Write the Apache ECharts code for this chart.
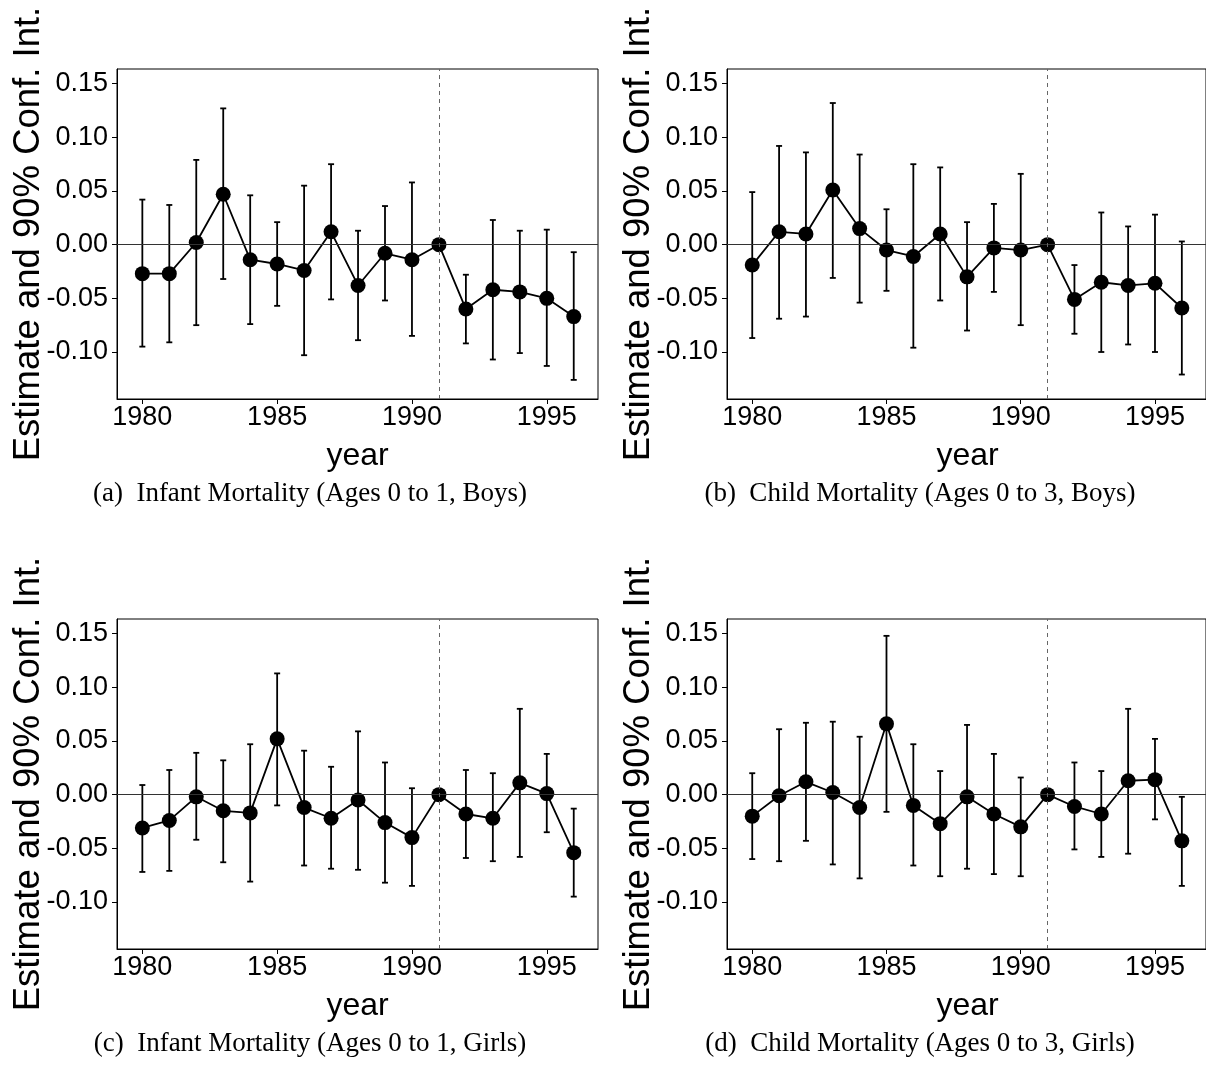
<!DOCTYPE html>
<html>
<head>
<meta charset="utf-8">
<script src="https://cdn.jsdelivr.net/npm/echarts@6/dist/echarts.min.js"></script>
<style>
html,body{margin:0;padding:0;background:#fff;}
#chart{width:1206px;height:1083px;}
</style>
</head>
<body>
<div id="chart"></div>
<script>
// ---- data ----
const years = [1980, 1981, 1982, 1983, 1984, 1985, 1986, 1987, 1988, 1989, 1990, 1991, 1992, 1993, 1994, 1995, 1996];
const xTicks = [1980, 1985, 1990, 1995];
const yTicks = [-0.10, -0.05, 0.00, 0.05, 0.10, 0.15];
const refYear = 1991;

// (a) Infant Mortality, Boys
const estA = [-0.027, -0.027, 0.002, 0.047, -0.014, -0.018, -0.024, 0.012, -0.038, -0.008, -0.014, 0, -0.060, -0.042, -0.044, -0.050, -0.067];
const loA  = [-0.095, -0.091, -0.075, -0.032, -0.074, -0.057, -0.103, -0.051, -0.089, -0.052, -0.085, null, -0.092, -0.107, -0.101, -0.113, -0.126];
const hiA  = [0.042, 0.037, 0.079, 0.127, 0.046, 0.021, 0.055, 0.075, 0.013, 0.036, 0.058, null, -0.028, 0.023, 0.013, 0.014, -0.007];
// (b) Child Mortality, Boys
const estB = [-0.019, 0.012, 0.010, 0.051, 0.015, -0.005, -0.011, 0.010, -0.030, -0.003, -0.005, 0, -0.051, -0.035, -0.038, -0.036, -0.059];
const loB  = [-0.087, -0.069, -0.067, -0.031, -0.054, -0.043, -0.096, -0.052, -0.080, -0.044, -0.075, null, -0.083, -0.100, -0.093, -0.100, -0.121];
const hiB  = [0.049, 0.092, 0.086, 0.132, 0.084, 0.033, 0.075, 0.072, 0.021, 0.038, 0.066, null, -0.019, 0.030, 0.017, 0.028, 0.003];
// (c) Infant Mortality, Girls
const estC = [-0.031, -0.024, -0.002, -0.015, -0.017, 0.052, -0.012, -0.022, -0.005, -0.026, -0.040, 0, -0.018, -0.022, 0.011, 0.001, -0.054];
const loC  = [-0.072, -0.071, -0.042, -0.063, -0.081, -0.010, -0.066, -0.069, -0.070, -0.082, -0.085, null, -0.059, -0.062, -0.058, -0.035, -0.095];
const hiC  = [0.009, 0.023, 0.039, 0.032, 0.047, 0.113, 0.041, 0.026, 0.059, 0.030, 0.006, null, 0.023, 0.020, 0.080, 0.038, -0.013];
// (d) Child Mortality, Girls
const estD = [-0.020, -0.001, 0.012, 0.002, -0.012, 0.066, -0.010, -0.027, -0.002, -0.018, -0.030, 0, -0.011, -0.018, 0.013, 0.014, -0.043];
const loD  = [-0.060, -0.062, -0.043, -0.065, -0.078, -0.016, -0.066, -0.076, -0.069, -0.074, -0.076, null, -0.051, -0.058, -0.055, -0.023, -0.085];
const hiD  = [0.020, 0.061, 0.067, 0.068, 0.054, 0.148, 0.047, 0.022, 0.065, 0.038, 0.016, null, 0.030, 0.022, 0.080, 0.052, -0.002];

const captions = [
  '(a)  Infant Mortality (Ages 0 to 1, Boys)',
  '(b)  Child Mortality (Ages 0 to 3, Boys)',
  '(c)  Infant Mortality (Ages 0 to 1, Girls)',
  '(d)  Child Mortality (Ages 0 to 3, Girls)'
];
const yTitle = 'Estimate and 90% Conf. Int.';
const xTitle = 'year';

// ---- layout ----
const SANS = '"Liberation Sans", Arial, Helvetica, sans-serif';
const SERIF = '"Liberation Serif", "Times New Roman", serif';
const panels = [
  {est: estA, lo: loA, hi: hiA, left: 117, top: 69},
  {est: estB, lo: loB, hi: hiB, left: 727, top: 69},
  {est: estC, lo: loC, hi: hiC, left: 117, top: 619},
  {est: estD, lo: loD, hi: hiD, left: 727, top: 619}
];
const GW = 481, GH = 330;

const grid = [], xAxis = [], yAxis = [], series = [], graphic = [];

panels.forEach((p, i) => {
  grid.push({left: p.left, top: p.top, width: GW, height: GH, show: true,
    borderColor: '#000', borderWidth: 1, backgroundColor: 'transparent', containLabel: false});
  xAxis.push({
    type: 'value', gridIndex: i, min: 1979.06, max: 1996.9,
    axisLine: {show: true, onZero: false, lineStyle: {color: '#000', width: 1}},
    axisTick: {show: true, length: 5, customValues: xTicks, lineStyle: {color: '#000', width: 1}},
    axisLabel: {customValues: xTicks, fontSize: 27, color: '#000', fontFamily: SANS, margin: 5,
      formatter: v => String(Math.round(v))},
    splitLine: {show: false}
  });
  yAxis.push({
    type: 'value', gridIndex: i, min: -0.1438, max: 0.1637,
    axisLine: {show: true, onZero: false, lineStyle: {color: '#000', width: 1}},
    axisTick: {show: true, length: 5, customValues: yTicks, lineStyle: {color: '#000', width: 1}},
    axisLabel: {customValues: yTicks, fontSize: 27, color: '#000', fontFamily: SANS, margin: 9,
      formatter: v => v.toFixed(2)},
    splitLine: {show: false}
  });
  // reference lines
  series.push({
    type: 'line', xAxisIndex: i, yAxisIndex: i, z: 1, data: [[refYear, 0]],
    showSymbol: false, symbolSize: 0, lineStyle: {width: 0}, silent: true, animation: false,
    markLine: {
      silent: true, symbol: ['none', 'none'], label: {show: false}, animation: false,
      data: [
        {yAxis: 0, lineStyle: {color: '#333', width: 1, type: 'solid'}},
        {xAxis: refYear, lineStyle: {color: '#666', width: 1, type: [4, 4]}}
      ]
    }
  });
  // error bars
  const ebData = [];
  years.forEach((y, k) => { if (p.lo[k] !== null && p.hi[k] !== null) ebData.push([y, p.lo[k], p.hi[k]]); });
  series.push({
    type: 'custom', xAxisIndex: i, yAxisIndex: i, z: 2, animation: false, silent: true,
    data: ebData,
    renderItem: function (params, api) {
      const x = api.value(0);
      const a = api.coord([x, api.value(1)]);
      const b = api.coord([x, api.value(2)]);
      const w = 3;
      const st = {stroke: '#000', lineWidth: 1.8};
      return {type: 'group', children: [
        {type: 'line', shape: {x1: a[0], y1: a[1], x2: b[0], y2: b[1]}, style: st},
        {type: 'line', shape: {x1: a[0] - w, y1: a[1], x2: a[0] + w, y2: a[1]}, style: st},
        {type: 'line', shape: {x1: b[0] - w, y1: b[1], x2: b[0] + w, y2: b[1]}, style: st}
      ]};
    }
  });
  // estimates
  series.push({
    type: 'line', xAxisIndex: i, yAxisIndex: i, z: 3, animation: false, silent: true,
    data: years.map((y, k) => [y, p.est[k]]),
    symbol: 'circle', symbolSize: 15, showAllSymbol: true,
    lineStyle: {color: '#000', width: 1.8}, itemStyle: {color: '#000'}
  });
  // titles
  graphic.push({type: 'text', x: p.left - 88, y: p.top + GH / 2, rotation: Math.PI / 2,
    style: {text: yTitle, font: '36.5px ' + SANS, fill: '#000', textAlign: 'center', textVerticalAlign: 'middle'}});
  graphic.push({type: 'text', x: p.left + 240.5, y: p.top + GH + 57,
    style: {text: xTitle, font: '32px ' + SANS, fill: '#000', textAlign: 'center', textVerticalAlign: 'middle'}});
  graphic.push({type: 'text', x: p.left + 193, y: p.top + GH + 95,
    style: {text: captions[i], font: '27px ' + SERIF, fill: '#000', textAlign: 'center', textVerticalAlign: 'middle'}});
});

const chart = echarts.init(document.getElementById('chart'), null, {renderer: 'canvas'});
chart.setOption({backgroundColor: '#fff', animation: false, grid, xAxis, yAxis, series, graphic});
</script>
</body>
</html>
